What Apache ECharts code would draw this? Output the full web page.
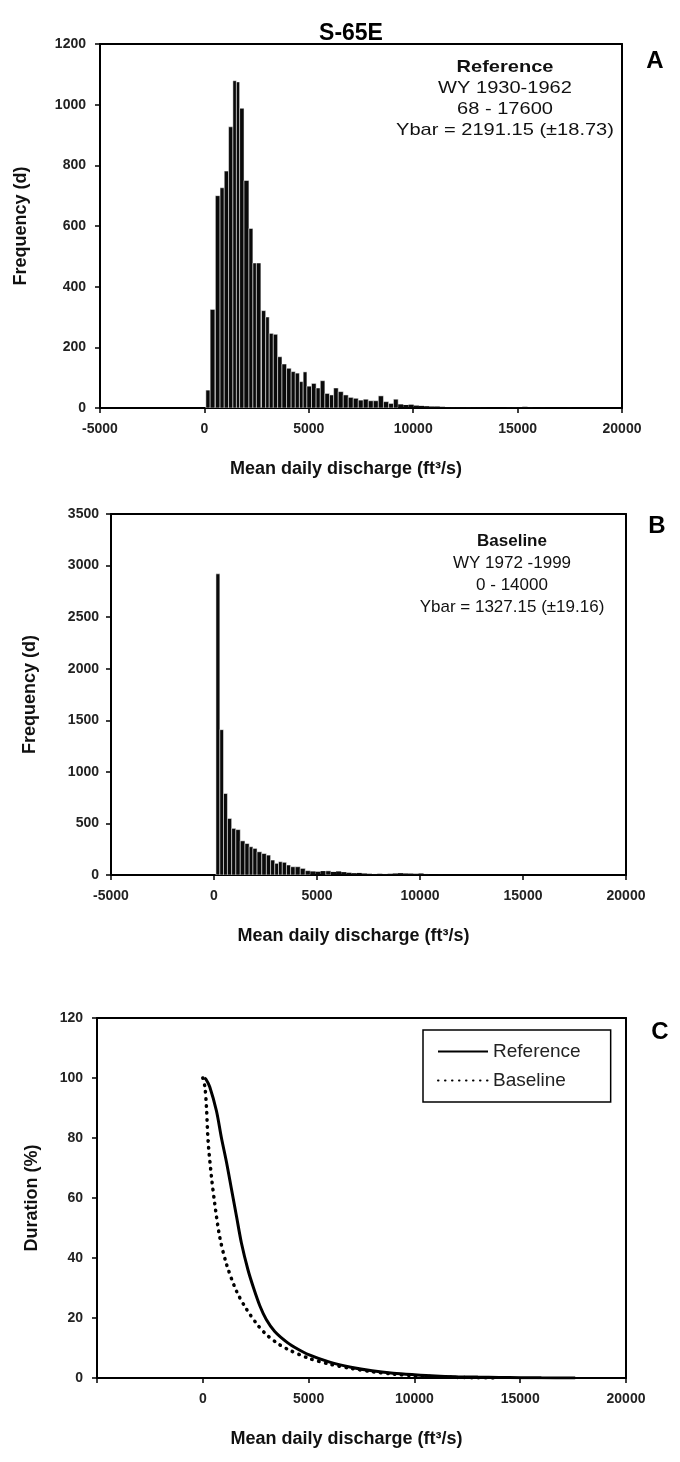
<!DOCTYPE html>
<html><head><meta charset="utf-8">
<script src="https://cdn.jsdelivr.net/npm/echarts/dist/echarts.min.js"></script>
<style>html,body{margin:0;padding:0;background:#fff}#c{width:680px;height:1462px}</style>
</head><body><div id="c"></div><script>
// ---- data ----
const binCentersA = [170,380,650,850,1050,1265,1465,1600,1775,2020,2245,2400,2580,2860,3010,3200,3400,3615,3815,4055,4255,4450,4650,4810,5010,5250,5450,5650,5890,6090,6290,6530,6770,7010,7250,7490,7730,7970,8210,8450,8700,8950,9160,9400,9650,9900,10150,10400,10650,10900,11150,11400,11650,11900,12150,12400,12650,12900,13150,13400,14600,14850,15100,15350,15600,16200,17500];
const countsA = [59,325,700,726,781,927,1079,1075,988,750,592,478,478,321,300,246,243,169,145,131,120,115,87,119,72,81,66,90,48,43,66,54,43,35,32,26,29,24,24,40,21,15,29,12,10,11,8,7,6,5,5,4,3,3,3,2,3,2,2,1,2,3,2,4,2,1,1];
const binCentersB = [195,373,550,755,960,1160,1390,1615,1800,1980,2200,2440,2645,2850,3050,3215,3415,3620,3820,4065,4310,4550,4800,5050,5300,5550,5800,6050,6300,6550,6800,7050,7300,7550,7800,8050,8300,8550,8800,9050,9300,9550,9800,10050,10300,11000,12500,13900];
const countsB = [2920,1409,790,548,452,440,331,305,274,258,225,208,193,145,113,129,123,97,80,80,64,42,35,32,38,40,30,35,28,22,18,20,15,12,10,12,10,12,15,18,15,14,12,15,10,2,1,1];
const durRefQ = [68,150,330,646,882,1118,1354,1590,1825,2137,2400,2700,3000,3400,4000,4500,5000,6000,7000,8000,9000,10000,11000,12000,13000,14000,15000,16000,17600];
const durRefPct = [100,99.6,97,89,80,72,63,54,45,36,30,24,19.5,15.5,11.8,9.6,7.8,5.3,3.6,2.4,1.6,1.1,0.7,0.45,0.3,0.2,0.12,0.06,0];
const durBaseQ = [0,100,175,250,410,566,800,1118,1590,2060,2610,3000,3500,4000,5000,6000,7000,8000,9000,10000,11000,12000,13000,14000];
const durBasePct = [100,97,90,79,67,58,47,38,29,23,17.5,14.5,11.7,9.6,6.6,4.6,3.2,2.1,1.3,0.75,0.4,0.2,0.08,0];
const title = 'S-65E';
const xName = 'Mean daily discharge (ft\u00B3/s)';
const annA = ['Reference','WY 1930-1962','68 - 17600','Ybar = 2191.15 (\u00B118.73)'];
const annB = ['Baseline','WY 1972 -1999','0 - 14000','Ybar = 1327.15 (\u00B119.16)'];

// ---- chart ----
const FONT = '"Liberation Sans", Arial, sans-serif';
function histRender(centers){
  return function(params, api){
    const i = params.dataIndex;
    const c = api.value(0), y = api.value(1);
    const prev = i>0 ? centers[i-1] : c-200;
    const next = i<centers.length-1 ? centers[i+1] : c+200;
    const l = Math.max((prev+c)/2, c-125), r = Math.min((c+next)/2, c+125);
    const a = api.coord([l, 0]);
    const b = api.coord([r, y]);
    const h = a[1]-b[1];
    return {type:'rect', shape:{x:a[0], y:b[1], width:Math.max(b[0]-a[0],1), height:Math.max(h,0.8)},
      style:{fill:'#0a0a0a', stroke: h>4 ? '#ffffff' : null, lineWidth:0.5}};
  };
}
const axisLine = {show:true, onZero:false, lineStyle:{color:'#000', width:2}};
const tickLbl = {fontSize:14, fontWeight:'bold', color:'#222', fontFamily:FONT};
const nameSty = {fontSize:18, fontWeight:'bold', color:'#111', fontFamily:FONT};
function xBottom(grid, hideNeg){
  return {type:'value', gridIndex:grid, min:-5000, max:20000, interval:5000,
    axisLine:axisLine, axisTick:{show:true, inside:false, length:5, lineStyle:{color:'#000',width:1.5}},
    splitLine:{show:false},
    axisLabel:Object.assign({margin:14, formatter:v=>(hideNeg && v<0)?'':String(v)}, tickLbl),
    name:xName, nameLocation:'middle', nameGap:52,
    nameTextStyle:Object.assign({padding:[0,30,0,0]}, nameSty)};
}
function frameAxis(kind, grid, min, max){
  return {type:'value', gridIndex:grid, min:min, max:max, position: kind==='x' ? 'top' : 'right',
    axisLine:axisLine, axisTick:{show:false}, axisLabel:{show:false}, splitLine:{show:false}};
}
function yLeft(grid, max, interval, name, gap, margin){
  return {type:'value', gridIndex:grid, min:0, max:max, interval:interval,
    axisLine:axisLine, axisTick:{show:true, length:5, lineStyle:{color:'#000',width:1.5}},
    splitLine:{show:false}, axisLabel:Object.assign({margin:margin, formatter:v=>String(v)}, tickLbl),
    name:name, nameLocation:'middle', nameGap:gap, nameRotate:90, nameTextStyle:nameSty};
}
function annot(lines, cx, ys, sx){
  return lines.map((t,i)=>({type:'text', x:cx, y:ys[i], scaleX:sx, originX:0, originY:0,
    style:{text:t, x:0, y:0, textAlign:'center', textVerticalAlign:'middle', fontSize:17, fontWeight:i===0?'bold':'normal', fill:'#111', fontFamily:FONT}}));
}
function panelLetter(t, x, y){
  return {type:'text', x:x, y:y, style:{text:t, textAlign:'center', textVerticalAlign:'middle', fontSize:24, fontWeight:'bold', fill:'#000', fontFamily:FONT}};
}
const chart = echarts.init(document.getElementById('c'), null, {renderer:'canvas'});
chart.setOption({
  animation:false,
  backgroundColor:'#fff',
  title:{text:title, left:346, top:17, textAlign:'center', textStyle:{fontSize:23, fontWeight:'bold', color:'#000', fontFamily:FONT}},
  grid:[
    {left:100, right:58, top:44, height:364},
    {left:111, right:54, top:514, height:361},
    {left:97, right:54, top:1018, height:360}
  ],
  xAxis:[xBottom(0,false), frameAxis('x',0,-5000,20000), xBottom(1,false), frameAxis('x',1,-5000,20000), xBottom(2,true), frameAxis('x',2,-5000,20000)],
  yAxis:[yLeft(0,1200,200,'Frequency (d)',70,14), frameAxis('y',0,0,1200),
         yLeft(1,3500,500,'Frequency (d)',72,12), frameAxis('y',1,0,3500),
         yLeft(2,120,20,'Duration (%)',56,14), frameAxis('y',2,0,120)],
  legend:{data:['Reference','Baseline'], orient:'vertical', left:423, top:1030, itemWidth:50, itemHeight:14, itemGap:10,
    borderColor:'#000', borderWidth:1.5, padding:[12,30,12,14], borderRadius:0,
    itemStyle:{opacity:0},
    textStyle:{fontSize:19, color:'#222', fontFamily:FONT}},
  series:[
    {type:'custom', xAxisIndex:0, yAxisIndex:0, renderItem:histRender(binCentersA), data:binCentersA.map((c,i)=>[c,countsA[i]]), clip:true},
    {type:'custom', xAxisIndex:2, yAxisIndex:2, renderItem:histRender(binCentersB), data:binCentersB.map((c,i)=>[c,countsB[i]]), clip:true},
    {type:'line', name:'Reference', xAxisIndex:4, yAxisIndex:4, symbol:'none', smooth:0.3,
      lineStyle:{color:'#000', width:3}, itemStyle:{color:'#000'}, data:durRefQ.map((q,i)=>[q,durRefPct[i]])},
    {type:'line', name:'Baseline', xAxisIndex:4, yAxisIndex:4, symbol:'none', smooth:0.3,
      lineStyle:{color:'#000', width:3.5, type:[0.5,6.5], cap:'round'}, itemStyle:{color:'#000'}, data:durBaseQ.map((q,i)=>[q,durBasePct[i]])}
  ],
  graphic:[
    ...annot(annA, 505, [67,88,109,130], 1.18),
    ...annot(annB, 512, [541,563,585,607], 1.0),
    panelLetter('A', 655, 61),
    panelLetter('B', 657, 526),
    panelLetter('C', 660, 1032)
  ]
});
</script></body></html>
